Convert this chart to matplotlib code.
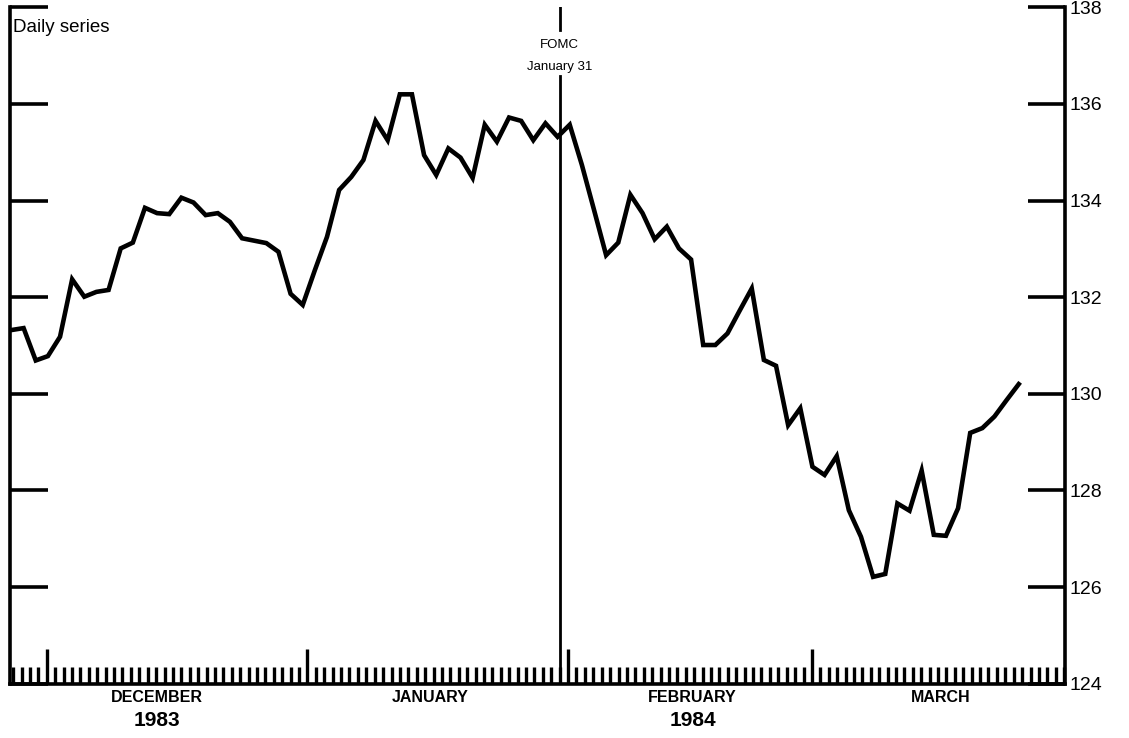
import numpy as np
import matplotlib.pyplot as plt
from matplotlib.ticker import FixedLocator, MultipleLocator
import matplotlib.transforms as mtransforms

plt.rcParams['font.family'] = ['Liberation Sans', 'DejaVu Sans']

# daily series, business days from late Nov 1983 to late Mar 1984
values = [131.32, 131.36, 130.69, 130.78, 131.18, 132.37, 132.01, 132.11, 132.15, 133.01,
          133.13, 133.85, 133.74, 133.72, 134.06, 133.96, 133.70, 133.74, 133.56, 133.22,
          133.17, 133.12, 132.94, 132.07, 131.84, 132.56, 133.25, 134.22, 134.49, 134.84,
          135.65, 135.25, 136.20, 136.20, 134.94, 134.53, 135.08, 134.89, 134.47, 135.57,
          135.22, 135.72, 135.65, 135.25, 135.60, 135.32, 135.57, 134.74, 133.81, 132.87,
          133.13, 134.12, 133.74, 133.20, 133.46, 133.01, 132.78, 131.01, 131.01, 131.25,
          131.72, 132.18, 130.70, 130.58, 129.35, 129.70, 128.49, 128.32, 128.71, 127.59,
          127.04, 126.21, 126.27, 127.73, 127.58, 128.41, 127.08, 127.06, 127.63, 129.19,
          129.29, 129.53, 129.87, 130.20]

# days counted from Dec 1 1983 (= 0)
first_day = -4.2
last_day = 115.6
month_starts = [0, 31, 62, 91]
month_names = ['DECEMBER', 'JANUARY', 'FEBRUARY', 'MARCH']
month_label_days = [13.1, 45.6, 76.8, 106.3]
years = ['1983', '1984']
year_label_days = [13.1, 76.8]
fomc_day = 61
y_ticks = [124, 126, 128, 130, 132, 134, 136, 138]

x = np.linspace(first_day, last_day, len(values))

fig = plt.figure(figsize=(11.29, 7.38), dpi=100)
ax = fig.add_axes([0.0089, 0.0737, 0.9344, 0.9163])

ax.plot(x, values, color='black', lw=3.3, solid_joinstyle='miter')

# FOMC line with a gap for the text
ax.plot([fomc_day, fomc_day], [124, 136.57], color='black', lw=2.0)
ax.plot([fomc_day, fomc_day], [137.53, 138.0], color='black', lw=2.0)
ax.text(fomc_day, 137.22, 'FOMC', ha='center', va='center', fontsize=9.5)
ax.text(fomc_day, 136.76, 'January 31', ha='center', va='center', fontsize=9.5)

ax.text(first_day + 0.2, 137.58, 'Daily series', ha='left', va='center', fontsize=13.5)

ax.set_xlim(-4.37, 121.1)
ax.set_ylim(124, 138)

for s in ['left', 'right', 'bottom']:
    ax.spines[s].set_linewidth(2.6)
ax.spines['top'].set_visible(False)

ax.yaxis.set_major_locator(FixedLocator(y_ticks))
ax.tick_params(axis='y', left=True, right=True, labelleft=False, labelright=True,
               direction='in', length=27, width=2.6, pad=3, labelsize=14)

ax.xaxis.set_major_locator(FixedLocator(month_starts))
ax.xaxis.set_minor_locator(MultipleLocator(1))
ax.tick_params(axis='x', which='major', direction='in', length=25, width=2.4,
               labelbottom=False)
ax.tick_params(axis='x', which='minor', direction='in', length=12, width=2.4)

trans = mtransforms.blended_transform_factory(ax.transData, ax.transAxes)
for d, name in zip(month_label_days, month_names):
    ax.text(d, -0.021, name, transform=trans, ha='center', va='center',
            fontsize=11.5, fontweight='bold')
for d, yr in zip(year_label_days, years):
    ax.text(d, -0.055, yr, transform=trans, ha='center', va='center',
            fontsize=15, fontweight='bold')

fig.savefig('out.png', dpi=100)
